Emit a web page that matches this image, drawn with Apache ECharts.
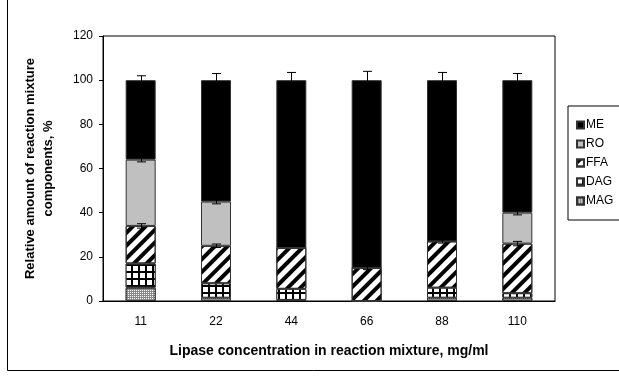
<!DOCTYPE html>
<html>
<head>
<meta charset="utf-8">
<script src="https://cdn.jsdelivr.net/npm/echarts@6/dist/echarts.min.js"></script>
<style>
  html, body { margin: 0; padding: 0; background: #fff; }
  #chart { width: 619px; height: 377px; }
</style>
</head>
<body>
<div id="chart"></div>
<script>
// lipase concentration, mg/ml
var categories = ["11", "22", "44", "66", "88", "110"];
// stacked components, % (bottom to top)
var mag = [6, 1.5, 0.5, 0, 1.5, 1.5];
var dag = [11, 6.5, 5, 0, 4.5, 2];
var ffa = [17, 17, 18.5, 15, 21, 22.5];
var ro = [30, 20, 0, 0, 0, 14];
var me = [36, 55, 76, 85, 73, 60];
// error bar half-widths at the top of FFA, RO and ME
var errFFA = [1, 0.8, 0, 0.8, 0.8, 1];
var errRO = [1, 1, 0, 0, 0, 1];
var errME = [2, 3, 3.5, 4, 3.5, 3];
var yTicks = [0, 20, 40, 60, 80, 100, 120];

var font = "Liberation Sans, Arial, sans-serif";

// error bar points [category index, stack top, error]
var errData = [];
categories.forEach(function (c, i) {
  var t1 = mag[i] + dag[i] + ffa[i];
  var t2 = t1 + ro[i];
  var t3 = t2 + me[i];
  if (errFFA[i] > 0) errData.push([i, t1, errFFA[i]]);
  if (errRO[i] > 0) errData.push([i, t2, errRO[i]]);
  errData.push([i, t3, errME[i]]);
});

var chart = echarts.init(document.getElementById("chart"));

function barSeries(name, data, color, decal) {
  var s = {
    name: name,
    type: "bar",
    stack: "all",
    barWidth: 30,
    data: data,
    itemStyle: { color: color, borderColor: "#333", borderWidth: 1 }
  };
  if (decal) s.itemStyle.decal = decal;
  return s;
}

chart.setOption({
  animation: false,
  textStyle: { fontFamily: font },
  graphic: [{
    type: "rect",
    shape: { x: 7.5, y: -2, width: 700, height: 372.5 },
    style: { fill: "none", stroke: "#000", lineWidth: 1 },
    silent: true
  }],
  grid: {
    left: 103, right: 64, top: 36, bottom: 76,
    show: true, borderColor: "#000", borderWidth: 1, backgroundColor: "#fff"
  },
  legend: {
    orient: "vertical",
    left: 568, top: 106,
    padding: [12, 30, 12, 8],
    itemGap: 5,
    itemWidth: 7, itemHeight: 7,
    borderColor: "#000", borderWidth: 1,
    icon: "rect",
    data: ["ME", "RO", "FFA", "DAG", "MAG"],
    textStyle: { fontFamily: font, fontSize: 12, color: "#000", lineHeight: 14, padding: [0, 0, 0, -3] }
  },
  xAxis: {
    type: "category",
    data: categories,
    name: "Lipase concentration in reaction mixture, mg/ml",
    nameLocation: "middle",
    nameGap: 43,
    nameTextStyle: { fontFamily: font, fontSize: 14, fontWeight: "bold", color: "#000" },
    axisLine: { lineStyle: { color: "#000", width: 1 } },
    axisTick: { length: 4, lineStyle: { color: "#000" } },
    axisLabel: { fontFamily: font, fontSize: 12, color: "#000", margin: 15 }
  },
  yAxis: {
    type: "value",
    min: 0, max: 120, interval: 20,
    name: "Relative amount of reaction mixture\ncomponents, %",
    nameLocation: "middle",
    nameGap: 46,
    nameTextStyle: { fontFamily: font, fontSize: 13, fontWeight: "bold", color: "#000", lineHeight: 18 },
    axisLine: { show: true, lineStyle: { color: "#000", width: 1 } },
    axisTick: { show: true, length: 4, lineStyle: { color: "#000" } },
    splitLine: { show: false },
    axisLabel: {
      fontFamily: font, fontSize: 12, color: "#000", margin: 10,
      formatter: function (v) { return yTicks.indexOf(v) >= 0 ? String(v) : ""; }
    }
  },
  series: [
    barSeries("MAG", mag, "#8a8a8a", {
      symbol: "rect", symbolSize: 1, color: "#fff",
      dashArrayX: [1, 1], dashArrayY: [1, 1]
    }),
    barSeries("DAG", dag, "#000", {
      symbol: "rect", symbolSize: 1, color: "#fff",
      dashArrayX: [5, 1.5], dashArrayY: [5, 1.5]
    }),
    barSeries("FFA", ffa, "#fff", {
      symbol: "rect", symbolSize: 1, color: "#000",
      dashArrayX: [1, 0], dashArrayY: [4, 5], rotation: -Math.PI / 4
    }),
    barSeries("RO", ro, "#c0c0c0"),
    barSeries("ME", me, "#000"),
    {
      type: "custom",
      name: "err",
      z: 10,
      data: errData,
      renderItem: function (params, api) {
        var i = api.value(0), v = api.value(1), e = api.value(2);
        var hi = api.coord([i, v + e]);
        var lo = api.coord([i, v - e]);
        var x = Math.round(hi[0]) + 0.5;
        var w = 4.5;
        var st = { stroke: "#000", lineWidth: 1 };
        return {
          type: "group",
          children: [
            { type: "line", shape: { x1: x, y1: lo[1], x2: x, y2: hi[1] }, style: st },
            { type: "line", shape: { x1: x - w, y1: hi[1], x2: x + w, y2: hi[1] }, style: st },
            { type: "line", shape: { x1: x - w, y1: lo[1], x2: x + w, y2: lo[1] }, style: st }
          ]
        };
      }
    }
  ]
});
</script>
</body>
</html>
